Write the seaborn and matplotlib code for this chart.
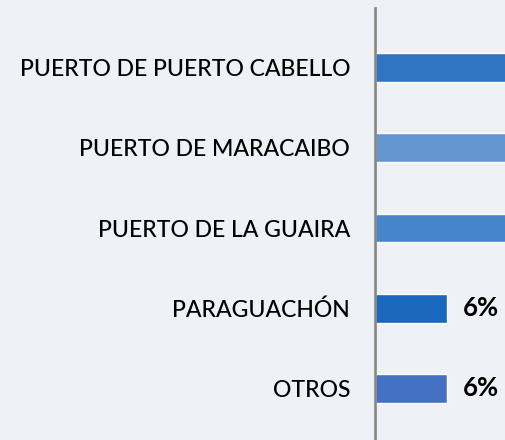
import numpy as np
import pandas as pd
import matplotlib.pyplot as plt
import seaborn as sns

# data (top three bars run off the right edge of the crop)
puertos = ['PUERTO DE PUERTO CABELLO', 'PUERTO DE MARACAIBO', 'PUERTO DE LA GUAIRA',
           'PARAGUACHÓN', 'OTROS']
porcentaje = [40, 25, 23, 6, 6]
colores = ['#3074C2', '#6396CF', '#4585CA', '#1A67BE', '#4470C4']

df = pd.DataFrame({'puerto': puertos, 'pct': porcentaje})

sns.set_style('white')
plt.rcParams['font.family'] = ['Lato', 'DejaVu Sans']

bg = '#EEF2F6'
fig = plt.figure(figsize=(5.06, 4.40), dpi=100, facecolor=bg)
ax = fig.add_axes([375 / 506, 0, 131 / 506, 432 / 440])
ax.set_facecolor(bg)

sns.barplot(data=df, x='pct', y='puerto', hue='puerto', palette=colores,
            legend=False, width=0.36, ax=ax, saturation=1)

ax.set_xlim(0, 10.92)
ax.set_ylim(4.644, -0.744)
ax.set_xlabel('')
ax.set_ylabel('')
ax.set_xticks([])
for s in ['top', 'right', 'bottom']:
    ax.spines[s].set_visible(False)
ax.spines['left'].set_color('#8C8C8C')
ax.spines['left'].set_linewidth(2)
ax.tick_params(axis='y', length=0, pad=18, labelsize=16.6, labelcolor='#000000')
for lbl in ax.get_yticklabels():
    lbl.set_fontweight('medium')

# value labels for the bars that fit
for i, v in enumerate(porcentaje):
    if v < 10:
        ax.text(v + 1.3, i, f'{v}%', va='center', ha='left', fontsize=18.5,
                fontweight='bold', color='#000000')

plt.savefig('out.png', dpi=100, facecolor=bg)
